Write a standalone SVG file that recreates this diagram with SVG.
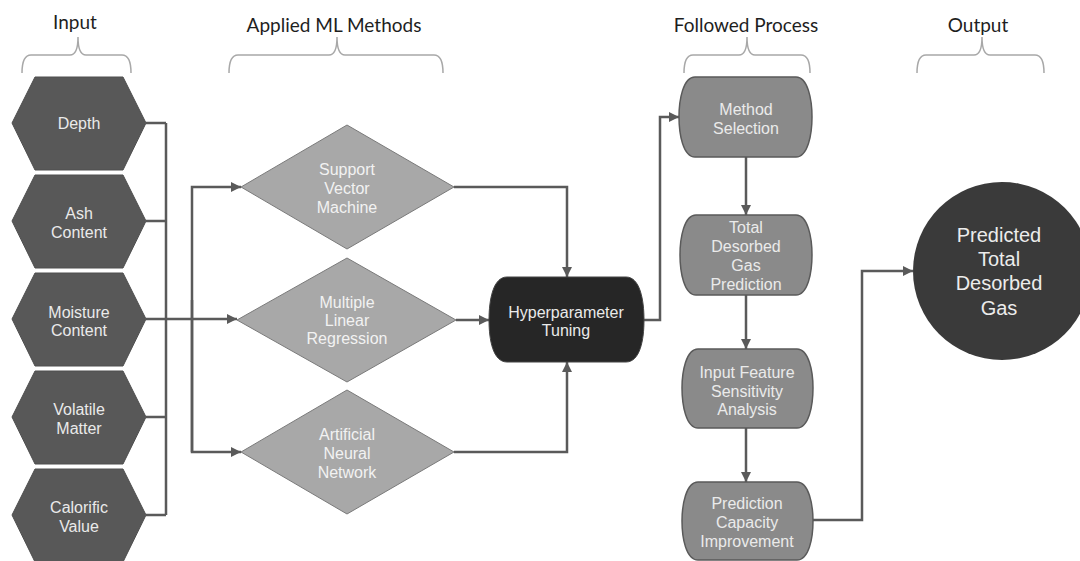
<svg xmlns="http://www.w3.org/2000/svg" width="1080" height="561" viewBox="0 0 1080 561">
<style>
.hdr{font-family:Lato,"Liberation Sans",sans-serif;font-size:19px;fill:#1e1e1e;text-anchor:middle}
.brace{fill:none;stroke:#a8a8a8;stroke-width:1.5}
.hex{fill:#585858;stroke:#4e4e4e;stroke-width:1}
.dia{fill:#a8a8a8;stroke:#7a7a7a;stroke-width:1}
.proc{fill:#8a8a8a;stroke:#5a5a5a;stroke-width:1.5}
.dark{fill:#262626;stroke:#444;stroke-width:1}
.circ{fill:#3a3a3a}
.t{font-family:"Liberation Sans",Arial,sans-serif;font-size:16px;text-anchor:middle}
.tw{fill:#eaeaea}
.tl{fill:#f2f2f2}
.big{font-family:"Liberation Sans",Arial,sans-serif;font-size:20px;text-anchor:middle;fill:#ececec}
.c{fill:none;stroke:#5a5a5a;stroke-width:2.5}
</style>
<defs>
<marker id="ah" viewBox="0 0 10 10" refX="10" refY="5" markerWidth="4" markerHeight="4" orient="auto" markerUnits="strokeWidth">
<path d="M0,0 L10,5 L0,10 Z" fill="#5a5a5a"/>
</marker>
</defs>
<rect width="1080" height="561" fill="#ffffff"/>

<g id="headers">
<text class="hdr" x="75" y="29">Input</text>
<text class="hdr" x="334" y="32">Applied ML Methods</text>
<text class="hdr" x="746" y="32">Followed Process</text>
<text class="hdr" x="978" y="32">Output</text>
<path class="brace" d="M22,73 Q22,55 31,55 H70 Q78,55 78,37 Q78,55 86,55 H122 Q131,55 131,73"/>
<path class="brace" d="M229,73 Q229,55 238,55 H329 Q337,55 337,37 Q337,55 345,55 H434 Q443,55 443,73"/>
<path class="brace" d="M684,73 Q684,55 693,55 H739 Q747,55 747,37 Q747,55 755,55 H801 Q810,55 810,73"/>
<path class="brace" d="M917,73 Q917,55 926,55 H974 Q982,55 982,37 Q982,55 990,55 H1035 Q1044,55 1044,73"/>
</g>

<g id="connectors">
<path class="c" d="M146,123 H166 M146,221 H166 M146,417 H166 M146,515 H166 M166,123 V515"/>
<path class="c" d="M146,319 H237" marker-end="url(#ah)"/>
<path class="c" d="M192,452 V187 H241" marker-end="url(#ah)"/>
<path class="c" d="M192,300 V452 H241" marker-end="url(#ah)"/>
<path class="c" d="M454,187 H567 V277" marker-end="url(#ah)"/>
<path class="c" d="M456,320 H489" marker-end="url(#ah)"/>
<path class="c" d="M454,452 H567 V362" marker-end="url(#ah)"/>
<path class="c" d="M644,320 H660 V117 H679" marker-end="url(#ah)"/>
<path class="c" d="M746,157 V215" marker-end="url(#ah)"/>
<path class="c" d="M746,295 V349" marker-end="url(#ah)"/>
<path class="c" d="M746,428 V482" marker-end="url(#ah)"/>
<path class="c" d="M813,520 H862 V271 H913" marker-end="url(#ah)"/>
</g>

<g id="depth">
<polygon class="hex" points="35,77 123,77 146,123 123,170 35,170 12,123"/>
<text class="t tw" x="79" y="129">Depth</text>
</g>
<g id="ash">
<polygon class="hex" points="35,175 123,175 146,221 123,268 35,268 12,221"/>
<text class="t tw" x="79" y="219">Ash</text>
<text class="t tw" x="79" y="238">Content</text>
</g>
<g id="moisture">
<polygon class="hex" points="35,273 123,273 146,319 123,366 35,366 12,319"/>
<text class="t tw" x="79" y="318">Moisture</text>
<text class="t tw" x="79" y="336">Content</text>
</g>
<g id="volatile">
<polygon class="hex" points="35,371 123,371 146,417 123,464 35,464 12,417"/>
<text class="t tw" x="79" y="415">Volatile</text>
<text class="t tw" x="79" y="434">Matter</text>
</g>
<g id="calorific">
<polygon class="hex" points="35,469 123,469 146,515 123,562 35,562 12,515"/>
<text class="t tw" x="79" y="513">Calorific</text>
<text class="t tw" x="79" y="532">Value</text>
</g>

<g id="svm">
<polygon class="dia" points="347,125 454,187 347,249 241,187"/>
<text class="t tl" x="347" y="175">Support</text>
<text class="t tl" x="347" y="194">Vector</text>
<text class="t tl" x="347" y="213">Machine</text>
</g>
<g id="mlr">
<polygon class="dia" points="347,258 456,320 347,382 237,320"/>
<text class="t tl" x="347" y="308">Multiple</text>
<text class="t tl" x="347" y="326">Linear</text>
<text class="t tl" x="347" y="344">Regression</text>
</g>
<g id="ann">
<polygon class="dia" points="347,390 454,452 347,514 241,452"/>
<text class="t tl" x="347" y="440">Artificial</text>
<text class="t tl" x="347" y="459">Neural</text>
<text class="t tl" x="347" y="478">Network</text>
</g>

<g id="hyper">
<path class="dark" d="M507,277 H626 C640,277 644,300 644,320 C644,340 640,362 626,362 H507 C493,362 489,340 489,320 C489,300 493,277 507,277 Z"/>
<text class="t tw" x="566" y="318">Hyperparameter</text>
<text class="t tw" x="566" y="336">Tuning</text>
</g>

<g id="method">
<path class="proc" d="M695,77 H796 C808,77 812,100 812,117 C812,134 808,157 796,157 H695 C683,157 679,134 679,117 C679,100 683,77 695,77 Z"/>
<text class="t tw" x="746" y="115">Method</text>
<text class="t tw" x="746" y="134">Selection</text>
</g>
<g id="tdg">
<path class="proc" d="M696,215 H796 C808,215 812,238 812,255 C812,272 808,295 796,295 H696 C684,295 680,272 680,255 C680,238 684,215 696,215 Z"/>
<text class="t tw" x="746" y="233">Total</text>
<text class="t tw" x="746" y="252">Desorbed</text>
<text class="t tw" x="746" y="271">Gas</text>
<text class="t tw" x="746" y="290">Prediction</text>
</g>
<g id="isa">
<path class="proc" d="M698,349 H797 C809,349 813,372 813,388 C813,405 809,428 797,428 H698 C686,428 682,405 682,388 C682,372 686,349 698,349 Z"/>
<text class="t tw" x="747" y="378">Input Feature</text>
<text class="t tw" x="747" y="397">Sensitivity</text>
<text class="t tw" x="747" y="415">Analysis</text>
</g>
<g id="pci">
<path class="proc" d="M698,482 H797 C809,482 813,505 813,521 C813,538 809,560 797,560 H698 C686,560 682,538 682,521 C682,505 686,482 698,482 Z"/>
<text class="t tw" x="747" y="509">Prediction</text>
<text class="t tw" x="747" y="528">Capacity</text>
<text class="t tw" x="747" y="547">Improvement</text>
</g>

<g id="output">
<circle class="circ" cx="1002" cy="271" r="89"/>
<text class="big" x="999" y="242">Predicted</text>
<text class="big" x="999" y="266">Total</text>
<text class="big" x="999" y="290">Desorbed</text>
<text class="big" x="999" y="315">Gas</text>
</g>
</svg>
